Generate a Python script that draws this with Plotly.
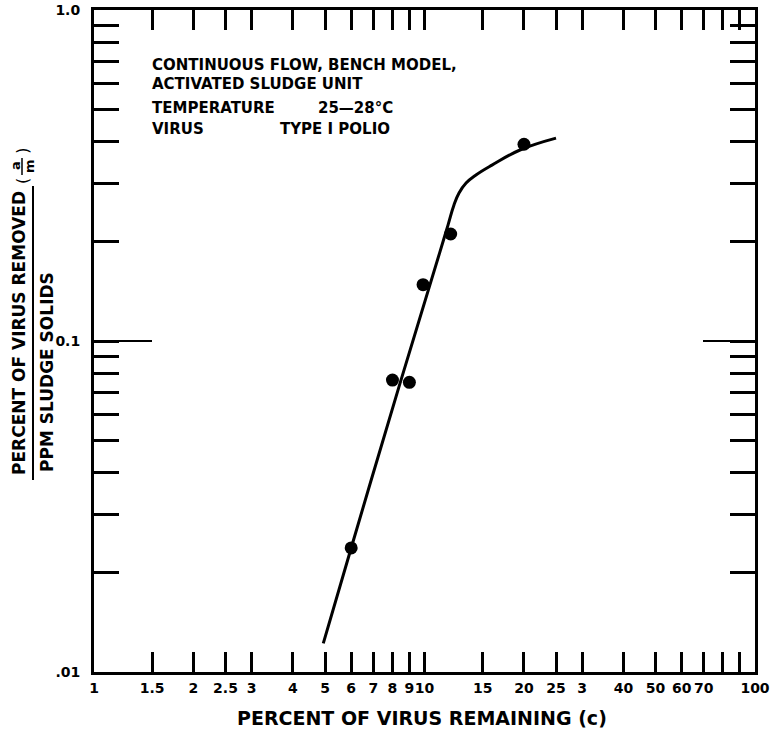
import plotly.graph_objects as go

# ---- data ----
point_x = [6.0, 8.0, 9.0, 9.9, 12.0, 20.0]
point_y = [0.0237, 0.0762, 0.0750, 0.148, 0.2105, 0.393]

curve_x = [4.94, 6.0, 8.4, 11.1, 11.78, 12.28, 12.72, 13.36, 14.31, 16.0, 19.45, 25.0]
curve_y = [0.0122, 0.0237, 0.0736, 0.184, 0.224, 0.2576, 0.280, 0.300, 0.3174, 0.340, 0.3776, 0.410]

x_tick_vals = [1, 1.5, 2, 2.5, 3, 4, 5, 6, 7, 8, 9, 10, 15, 20, 25, 30, 40, 50, 60, 70, 80, 90, 100]
x_tick_text = ["1", "1.5", "2", "2.5", "3", "4", "5", "6", "7", "8", "9", "10", "15", "20", "25", "3",
               "40", "50", "60", "70", "", "", "100"]
y_tick_vals = [0.01, 0.02, 0.03, 0.04, 0.05, 0.06, 0.07, 0.08, 0.09,
               0.1, 0.2, 0.3, 0.4, 0.5, 0.6, 0.7, 0.8, 0.9, 1.0]
y_tick_text = [".01", "", "", "", "", "", "", "", "",
               "0.1", "", "", "", "", "", "", "", "", "1.0"]

FONT = "DejaVu Sans"
W, H = 778, 729
L, R, T, B = 94, 23, 10, 57
PW, PH = W - L - R, H - T - B


def px(xp):
    return (xp - L) / PW


def py(yp):
    return (H - B - yp) / PH


fig = go.Figure()
fig.add_trace(go.Scatter(x=curve_x, y=curve_y, mode="lines",
                         line=dict(color="black", width=3, shape="spline", smoothing=1.2),
                         hoverinfo="skip", showlegend=False))
fig.add_trace(go.Scatter(x=point_x, y=point_y, mode="markers",
                         marker=dict(color="black", size=13), showlegend=False))

fig.update_layout(
    width=W, height=H,
    margin=dict(l=L, r=R, t=T, b=B),
    paper_bgcolor="white", plot_bgcolor="white",
    font=dict(family=FONT, color="black"),
    xaxis=dict(type="log", range=[0, 2], showgrid=False, zeroline=False, automargin=False,
               showline=True, linecolor="black", linewidth=3, mirror="allticks",
               ticks="inside", ticklen=20, tickwidth=2.5, tickcolor="black", tickangle=0,
               tickmode="array", tickvals=x_tick_vals, ticktext=x_tick_text,
               tickfont=dict(size=14, family=FONT, weight="bold"), ticklabelstandoff=1),
    yaxis=dict(type="log", range=[-2, 0], showgrid=False, zeroline=False, automargin=False,
               showline=True, linecolor="black", linewidth=3, mirror="allticks",
               ticks="inside", ticklen=25, tickwidth=2.5, tickcolor="black", tickangle=0,
               tickmode="array", tickvals=y_tick_vals, ticktext=y_tick_text,
               tickfont=dict(size=14, family=FONT, weight="bold"), ticklabelstandoff=8),
)

# long ticks at 0.1
fig.add_shape(type="line", xref="x domain", yref="y", x0=0, x1=58 / PW, y0=0.1, y1=0.1,
              line=dict(color="black", width=2))
fig.add_shape(type="line", xref="x domain", yref="y", x0=1 - 52 / PW, x1=1, y0=0.1, y1=0.1,
              line=dict(color="black", width=2))

ann_font = dict(family=FONT, size=15, color="black", weight="bold")
texts = [
    ("CONTINUOUS FLOW, BENCH MODEL,", 150, 65),
    ("ACTIVATED SLUDGE UNIT", 150, 84),
    ("TEMPERATURE", 150, 108),
    ("25\u201428\u00b0C", 316, 108),
    ("VIRUS", 150, 129),
    ("TYPE I POLIO", 278, 129),
]
for t, x, y in texts:
    fig.add_annotation(text=t, xref="paper", yref="paper", x=px(x), y=py(y),
                       xanchor="left", yanchor="middle", showarrow=False, font=ann_font)

# x title
fig.add_annotation(text="PERCENT OF VIRUS REMAINING (c)", xref="paper", yref="paper",
                   x=px(422), y=py(718), xanchor="center", yanchor="middle",
                   showarrow=False, font=dict(family=FONT, size=19, color="black", weight="bold"))

# y title (fraction)
tfont = dict(family=FONT, size=17, color="black", weight="bold")
fig.add_annotation(text="PERCENT OF VIRUS REMOVED", xref="paper", yref="paper",
                   x=px(19), y=py(333), xanchor="center", yanchor="middle", textangle=-90,
                   showarrow=False, font=tfont)
fig.add_annotation(text="PPM SLUDGE SOLIDS", xref="paper", yref="paper",
                   x=px(47), y=py(474), xanchor="center", yanchor="bottom", textangle=-90,
                   showarrow=False, font=tfont)
fig.add_shape(type="line", xref="paper", yref="paper", x0=px(33), x1=px(33),
              y0=py(480), y1=py(186), line=dict(color="black", width=2))
# small (a/m)
sfont = dict(family=FONT, size=13, color="black", weight="bold")
fig.add_annotation(text="(\u2003\u2002)", xref="paper", yref="paper", x=px(22), y=py(166),
                   xanchor="center", yanchor="middle", textangle=-90, showarrow=False,
                   font=dict(family=FONT, size=16, color="black"))
fig.add_annotation(text="a", xref="paper", yref="paper", x=px(15), y=py(166),
                   xanchor="center", yanchor="middle", textangle=-90, showarrow=False, font=sfont)
fig.add_annotation(text="m", xref="paper", yref="paper", x=px(29), y=py(166),
                   xanchor="center", yanchor="middle", textangle=-90, showarrow=False, font=sfont)
fig.add_shape(type="line", xref="paper", yref="paper", x0=px(22), x1=px(22),
              y0=py(175), y1=py(158), line=dict(color="black", width=1.5))

fig.write_html("out.html")
